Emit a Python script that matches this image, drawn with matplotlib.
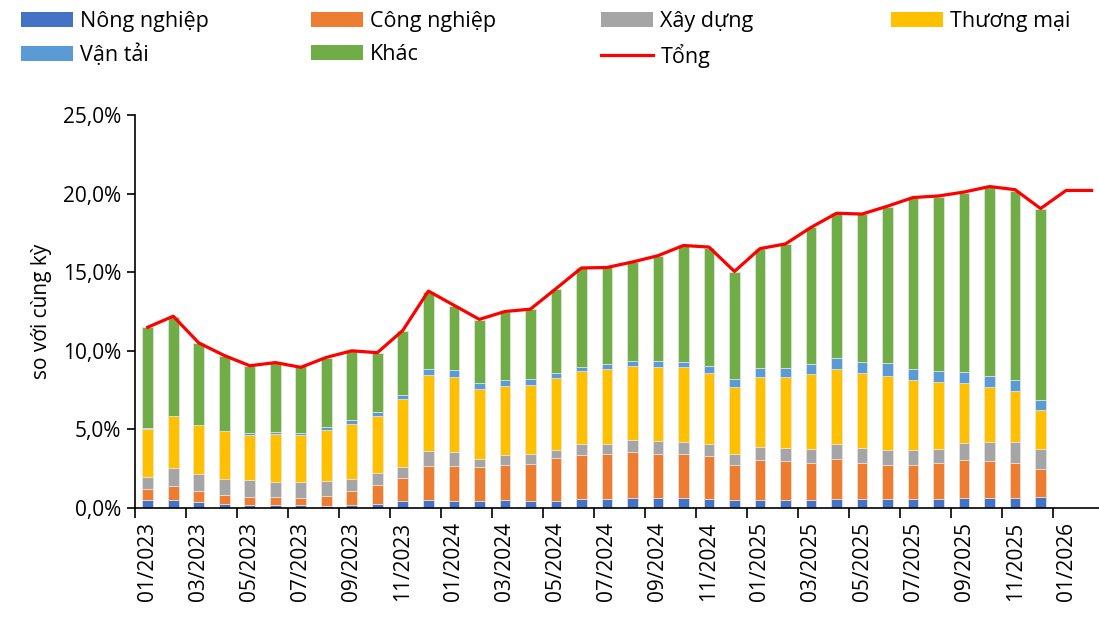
import matplotlib
matplotlib.use('Agg')
import matplotlib.pyplot as plt
from matplotlib.patches import Patch
from matplotlib.lines import Line2D
from matplotlib.ticker import FuncFormatter, FixedLocator

plt.rcParams['font.family'] = ['Open Sans', 'DejaVu Sans']

# tick labels (every 2nd month, starting 01/2023)
tick_labels = ['01/2023', '03/2023', '05/2023', '07/2023', '09/2023', '11/2023',
               '01/2024', '03/2024', '05/2024', '07/2024', '09/2024', '11/2024',
               '01/2025', '03/2025', '05/2025', '07/2025', '09/2025', '11/2025',
               '01/2026']

# contributions by sector, % yoy, 01/2023 - 12/2025
nong_nghiep = [0.50, 0.53, 0.38, 0.27, 0.19, 0.19, 0.17, 0.13, 0.19, 0.27, 0.43, 0.51,
               0.47, 0.47, 0.49, 0.45, 0.47, 0.55, 0.59, 0.64, 0.66, 0.66, 0.57, 0.51,
               0.51, 0.51, 0.51, 0.57, 0.57, 0.57, 0.57, 0.57, 0.64, 0.66, 0.66, 0.72]
cong_nghiep = [0.70, 0.89, 0.72, 0.56, 0.51, 0.51, 0.49, 0.66, 0.91, 1.17, 1.46, 2.18,
               2.22, 2.16, 2.27, 2.37, 2.69, 2.82, 2.82, 2.92, 2.75, 2.79, 2.76, 2.25,
               2.56, 2.46, 2.35, 2.57, 2.31, 2.17, 2.19, 2.27, 2.41, 2.35, 2.22, 1.74]
xay_dung = [0.80, 1.15, 1.04, 1.04, 1.06, 0.97, 0.97, 0.91, 0.77, 0.77, 0.74, 0.94,
            0.89, 0.51, 0.59, 0.59, 0.55, 0.70, 0.68, 0.75, 0.85, 0.77, 0.72, 0.68,
            0.83, 0.87, 0.89, 0.93, 0.96, 0.95, 0.93, 0.89, 1.06, 1.21, 1.34, 1.31]
thuong_mai = [3.05, 3.28, 3.14, 3.03, 2.88, 3.01, 3.01, 3.26, 3.47, 3.64, 4.28, 4.83,
              4.75, 4.45, 4.41, 4.41, 4.56, 4.65, 4.73, 4.72, 4.73, 4.73, 4.52, 4.26,
              4.43, 4.47, 4.75, 4.75, 4.75, 4.71, 4.43, 4.27, 3.86, 3.50, 3.20, 2.48]
van_tai = [0.02, 0.02, 0.02, 0.02, 0.11, 0.13, 0.11, 0.17, 0.26, 0.24, 0.28, 0.38,
           0.43, 0.36, 0.36, 0.37, 0.30, 0.23, 0.32, 0.30, 0.34, 0.36, 0.46, 0.49,
           0.60, 0.62, 0.66, 0.70, 0.68, 0.80, 0.72, 0.69, 0.68, 0.70, 0.70, 0.62]
khac = [6.45, 6.30, 5.22, 4.77, 4.30, 4.39, 4.31, 4.43, 4.37, 3.79, 4.09, 4.92,
        4.11, 4.01, 4.37, 4.45, 5.36, 6.32, 6.16, 6.32, 6.70, 7.39, 7.49, 6.84,
        7.55, 7.86, 8.69, 9.22, 9.43, 9.97, 10.86, 11.12, 11.41, 11.98, 12.06, 12.15]
# total, 01/2023 - 02/2026
tong = [11.5, 12.2, 10.5, 9.7, 9.05, 9.25, 8.95, 9.58, 10.0, 9.88, 11.3, 13.8,
        12.9, 12.0, 12.5, 12.65, 13.95, 15.27, 15.3, 15.65, 16.05, 16.7, 16.6, 15.05,
        16.5, 16.8, 17.85, 18.75, 18.7, 19.2, 19.75, 19.85, 20.1, 20.45, 20.25, 19.05,
        20.2, 20.2]

series = [('Nông nghiệp', nong_nghiep, '#4472C4'),
          ('Công nghiệp', cong_nghiep, '#ED7D31'),
          ('Xây dựng', xay_dung, '#A5A5A5'),
          ('Thương mại', thuong_mai, '#FFC000'),
          ('Vận tải', van_tai, '#5B9BD5'),
          ('Khác', khac, '#70AD47')]

fig = plt.figure(figsize=(10.99, 6.2), dpi=100)
ax = fig.add_axes([135 / 1099, 112 / 620, 964 / 1099, 393 / 620])

x = list(range(len(nong_nghiep)))
bottom = [0.0] * len(x)
for name, vals, color in series:
    ax.bar(x, vals, width=0.42, bottom=bottom, color=color,
           edgecolor='#e6e6e6', linewidth=0.5)
    bottom = [b + v for b, v in zip(bottom, vals)]

ax.plot(range(len(tong)), tong, color='#FF0000', linewidth=2.3)

ax.set_xlim(-0.5, 37.29)
ax.set_ylim(0, 25)
ax.set_yticks([0, 5, 10, 15, 20, 25])
ax.yaxis.set_major_formatter(FuncFormatter(lambda v, p: ('%.1f%%' % v).replace('.', ',')))

# ticks between categories, labels at category centres
ax.xaxis.set_major_locator(FixedLocator([i - 0.5 for i in range(0, 38, 2)]))
ax.xaxis.set_major_formatter(FuncFormatter(lambda v, p: ''))
ax.xaxis.set_minor_locator(FixedLocator(list(range(0, 38, 2))))
ax.set_xticklabels(tick_labels, minor=True, rotation=90)
ax.tick_params(axis='x', which='minor', length=0, pad=10, labelsize=15)
ax.tick_params(axis='x', which='major', length=7, width=1.2, direction='out')
ax.tick_params(axis='y', length=6, width=1.2, labelsize=15, pad=4)

for s in ['top', 'right']:
    ax.spines[s].set_visible(False)
ax.spines['left'].set_linewidth(1.2)
ax.spines['bottom'].set_linewidth(1.2)

ax.set_ylabel('so với cùng kỳ', fontsize=15, labelpad=8)

# legend, laid out in four columns like the original
handles = [Patch(facecolor=c, label=n) for n, v, c in series]
handles.append(Line2D([0], [0], color='#FF0000', linewidth=2.3, label='Tổng'))
columns = [[handles[0], handles[4]], [handles[1], handles[5]],
           [handles[2], handles[6]], [handles[3]]]
for k, col in enumerate(columns):
    leg = fig.legend(handles=col, loc='upper left',
                     bbox_to_anchor=((19 + 290 * k) / 1099, 1 - 9 / 620),
                     frameon=False, fontsize=15.5, handlelength=2.4,
                     handletextpad=0.35, labelspacing=0.55, borderpad=0.1,
                     borderaxespad=0)

fig.savefig('out.png', dpi=100)
